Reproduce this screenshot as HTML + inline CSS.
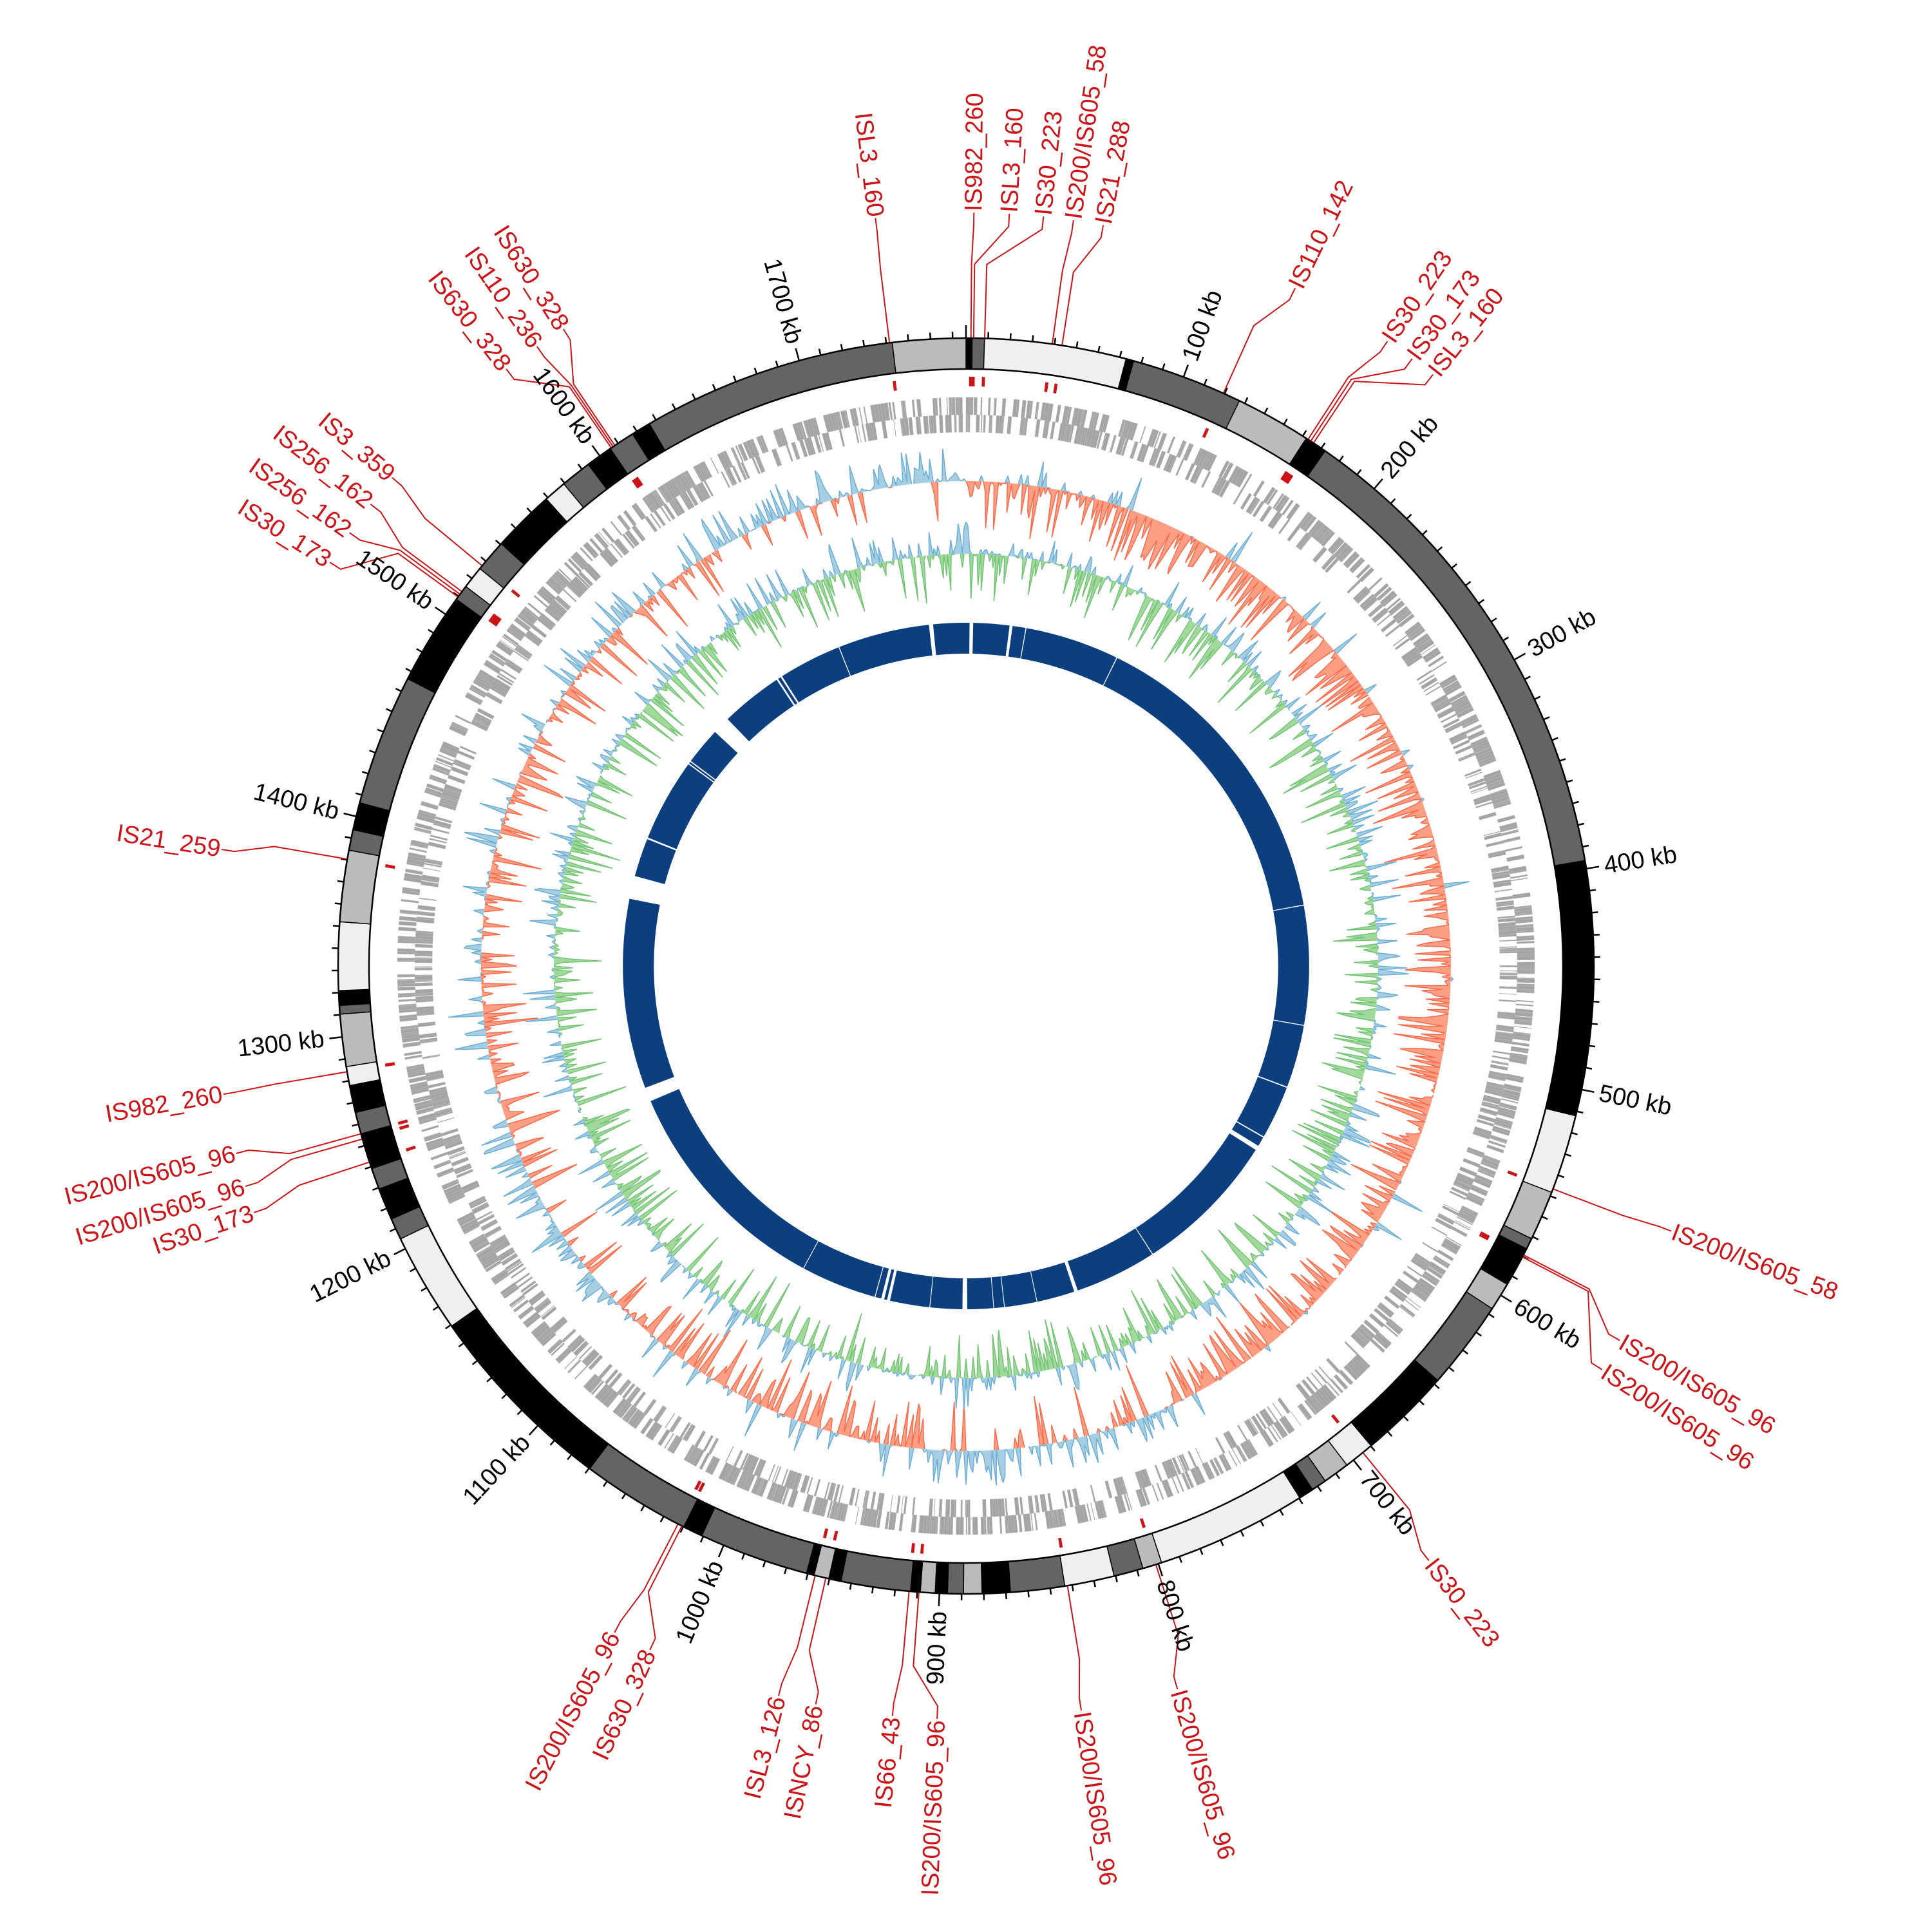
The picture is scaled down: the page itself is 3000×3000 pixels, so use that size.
<!DOCTYPE html>
<html><head><meta charset="utf-8"><style>
html,body{margin:0;padding:0;background:#fff;width:3000px;height:3000px;overflow:hidden}
svg{display:block}
.t{font-family:"Liberation Sans Narrow","Liberation Sans",sans-serif;font-size:38px;fill:#000;dominant-baseline:central}
.r{font-family:"Liberation Sans Narrow","Liberation Sans",sans-serif;font-size:38px;fill:#cc1418;dominant-baseline:central}
</style></head><body>
<svg id="s" width="3000" height="3000" viewBox="0 0 3000 3000" xmlns="http://www.w3.org/2000/svg">
<rect width="3000" height="3000" fill="#fff"/>
<g id="dyn"></g>
<g>
<text class="t" x="2503" y="1500" transform="rotate(-69.73 1500 1500)">100 kb</text>
<text class="t" x="2503" y="1500" transform="rotate(-49.46 1500 1500)">200 kb</text>
<text class="t" x="2503" y="1500" transform="rotate(-29.19 1500 1500)">300 kb</text>
<text class="t" x="2503" y="1500" transform="rotate(-8.92 1500 1500)">400 kb</text>
<text class="t" x="2503" y="1500" transform="rotate(11.35 1500 1500)">500 kb</text>
<text class="t" x="2503" y="1500" transform="rotate(31.62 1500 1500)">600 kb</text>
<text class="t" x="2503" y="1500" transform="rotate(51.89 1500 1500)">700 kb</text>
<text class="t" x="2503" y="1500" transform="rotate(72.16 1500 1500)">800 kb</text>
<text class="t" x="497" y="1500" text-anchor="end" transform="rotate(272.43 1500 1500)">900 kb</text>
<text class="t" x="497" y="1500" text-anchor="end" transform="rotate(292.70 1500 1500)">1000 kb</text>
<text class="t" x="497" y="1500" text-anchor="end" transform="rotate(312.97 1500 1500)">1100 kb</text>
<text class="t" x="497" y="1500" text-anchor="end" transform="rotate(333.24 1500 1500)">1200 kb</text>
<text class="t" x="497" y="1500" text-anchor="end" transform="rotate(353.51 1500 1500)">1300 kb</text>
<text class="t" x="497" y="1500" text-anchor="end" transform="rotate(373.78 1500 1500)">1400 kb</text>
<text class="t" x="497" y="1500" text-anchor="end" transform="rotate(394.05 1500 1500)">1500 kb</text>
<text class="t" x="497" y="1500" text-anchor="end" transform="rotate(414.32 1500 1500)">1600 kb</text>
<text class="t" x="497" y="1500" text-anchor="end" transform="rotate(434.59 1500 1500)">1700 kb</text>
</g>
<g>
<text class="r" x="328" y="1500" text-anchor="end" transform="rotate(443.1 1500 1500)">ISL3_160</text>
<text class="r" x="2672" y="1500" transform="rotate(-89.4 1500 1500)">IS982_260</text>
<text class="r" x="2672" y="1500" transform="rotate(-86.7 1500 1500)">ISL3_160</text>
<text class="r" x="2672" y="1500" transform="rotate(-84.1 1500 1500)">IS30_223</text>
<text class="r" x="2672" y="1500" transform="rotate(-81.8 1500 1500)">IS200/IS605_58</text>
<text class="r" x="2672" y="1500" transform="rotate(-79.5 1500 1500)">IS21_288</text>
<text class="r" x="2672" y="1500" transform="rotate(-64.1 1500 1500)">IS110_142</text>
<text class="r" x="2672" y="1500" transform="rotate(-56 1500 1500)">IS30_223</text>
<text class="r" x="2672" y="1500" transform="rotate(-53.7 1500 1500)">IS30_173</text>
<text class="r" x="2672" y="1500" transform="rotate(-51.7 1500 1500)">ISL3_160</text>
<text class="r" x="2672" y="1500" transform="rotate(20.6 1500 1500)">IS200/IS605_58</text>
<text class="r" x="2672" y="1500" transform="rotate(29.8 1500 1500)">IS200/IS605_96</text>
<text class="r" x="2672" y="1500" transform="rotate(32.4 1500 1500)">IS200/IS605_96</text>
<text class="r" x="2672" y="1500" transform="rotate(52.1 1500 1500)">IS30_223</text>
<text class="r" x="2672" y="1500" transform="rotate(73.7 1500 1500)">IS200/IS605_96</text>
<text class="r" x="2672" y="1500" transform="rotate(81.2 1500 1500)">IS200/IS605_96</text>
<text class="r" x="328" y="1500" text-anchor="end" transform="rotate(272.2 1500 1500)">IS200/IS605_96</text>
<text class="r" x="328" y="1500" text-anchor="end" transform="rotate(275.6 1500 1500)">IS66_43</text>
<text class="r" x="328" y="1500" text-anchor="end" transform="rotate(281.5 1500 1500)">ISNCY_86</text>
<text class="r" x="328" y="1500" text-anchor="end" transform="rotate(284.4 1500 1500)">ISL3_126</text>
<text class="r" x="328" y="1500" text-anchor="end" transform="rotate(294.8 1500 1500)">IS630_328</text>
<text class="r" x="328" y="1500" text-anchor="end" transform="rotate(297.8 1500 1500)">IS200/IS605_96</text>
<text class="r" x="328" y="1500" text-anchor="end" transform="rotate(340.9 1500 1500)">IS30_173</text>
<text class="r" x="328" y="1500" text-anchor="end" transform="rotate(343 1500 1500)">IS200/IS605_96</text>
<text class="r" x="328" y="1500" text-anchor="end" transform="rotate(345.6 1500 1500)">IS200/IS605_96</text>
<text class="r" x="328" y="1500" text-anchor="end" transform="rotate(350.2 1500 1500)">IS982_260</text>
<text class="r" x="328" y="1500" text-anchor="end" transform="rotate(368.9 1500 1500)">IS21_259</text>
<text class="r" x="328" y="1500" text-anchor="end" transform="rotate(392.4 1500 1500)">IS30_173</text>
<text class="r" x="328" y="1500" text-anchor="end" transform="rotate(395.1 1500 1500)">IS256_162</text>
<text class="r" x="328" y="1500" text-anchor="end" transform="rotate(397.8 1500 1500)">IS256_162</text>
<text class="r" x="328" y="1500" text-anchor="end" transform="rotate(400.4 1500 1500)">IS3_359</text>
<text class="r" x="328" y="1500" text-anchor="end" transform="rotate(412.4 1500 1500)">IS630_328</text>
<text class="r" x="328" y="1500" text-anchor="end" transform="rotate(415.3 1500 1500)">IS110_236</text>
<text class="r" x="328" y="1500" text-anchor="end" transform="rotate(417.7 1500 1500)">IS630_328</text>
</g>
</svg>
<script>
(function(){
var C=1500,out=[];
function P(r,a){var t=a*Math.PI/180;return [C+r*Math.sin(t),C-r*Math.cos(t)];}
function f(n){return n.toFixed(1);}
function sector(r1,r2,a1,a2){var p1=P(r2,a1),p2=P(r2,a2),p3=P(r1,a2),p4=P(r1,a1);var l=(a2-a1)>180?1:0;
return "M"+f(p1[0])+","+f(p1[1])+"A"+r2+","+r2+" 0 "+l+" 1 "+f(p2[0])+","+f(p2[1])+"L"+f(p3[0])+","+f(p3[1])+"A"+r1+","+r1+" 0 "+l+" 0 "+f(p4[0])+","+f(p4[1])+"Z";}
var seed=12345;function rnd(){seed|=0;seed=seed+0x6D2B79F5|0;var t=Math.imul(seed^seed>>>15,1|seed);t=t+Math.imul(t^t>>>7,61|t)^t;return((t^t>>>14)>>>0)/4294967296;}
function ang(x,y){var a=Math.atan2(x-782,-(y-783))*180/Math.PI;if(a<0)a+=360;return a;}
var D="#646464",L="#bbbbbb",E="#efefef",K="#000";
var B=[[787,275,K],[797,275,D],[912,290,E],[918,292,K],[1005,322,D],[1058,355,L],[1072,367,K],[1287,697,D],[1258,900,K],[1240,960,E],[1228,998,L],[1222,1005,D],[1207,1033,K],[1192,1050,L],[1152,1108,D],[1102,1162,K],[1085,1180,E],[1068,1193,L],[1058,1200,D],[1050,1210,K],[940,1265,E],[925,1270,L],[902,1277,D],[862,1285,E],[818,1290,D],[795,1291,K],[780,1291,L],[767,1291,D],[757,1291,K],[745,1290,L],[737,1290,K],[680,1285,D],[670,1283,K],[658,1280,L],[652,1278,K],[570,1240,D],[556,1232,K],[487,1177,D],[372,1070,K],[322,1005,E],[312,990,D],[303,965,K],[298,948,D],[288,920,K],[286,902,D],[282,880,K],[277,865,E],[275,822,L],[274,815,D],[273,803,K],[272,747,E],[276,688,L],[283,672,D],[288,650,K],[335,553,D],[372,488,K],[380,478,D],[393,465,E],[410,445,D],[445,408,K],[460,397,E],[480,382,D],[498,370,K],[515,357,D],[528,348,K],[722,276,D]];
var a0=0;
for(var i=0;i<B.length;i++){var a1=ang(B[i][0],B[i][1]);out.push('<path d="'+sector(927,975,a0,a1)+'" fill="'+B[i][2]+'" stroke="#000" stroke-width="1.5"/>');a0=a1;}
out.push('<path d="'+sector(927,975,a0,360)+'" fill="'+L+'" stroke="#000" stroke-width="1.5"/>');
out.push('<circle cx="1500" cy="1500" r="975" fill="none" stroke="#000" stroke-width="2.5"/><circle cx="1500" cy="1500" r="927" fill="none" stroke="#000" stroke-width="2.5"/>');
var tk="";for(var k=0;k<178;k++){var a=k*2.027,len=(k%10==0)?20:10;var p=P(975,a),q=P(975+len,a);tk+="M"+f(p[0])+","+f(p[1])+"L"+f(q[0])+","+f(q[1]);}
out.push('<path d="'+tk+'" stroke="#000" stroke-width="2.5"/>');
var IS=[[353.1,353.0],[0.6,0.45],[3.3,0.7],[5.9,1.7],[8.2,7.9],[10.5,8.8],[25.9,24.2],[34.0,33.0],[36.3,33.3],[38.3,33.6],[110.6,110.8],[119.8,117.4],[122.4,117.6],[142.1,140.8],[163.7,162.4],[171.2,170.7],[182.2,184.3],[185.6,185.2],[191.5,192.9],[194.4,193.9],[204.8,206.9],[207.8,207.3],[250.9,251.8],[253.0,254.0],[255.6,254.5],[260.2,260.3],[278.9,279.8],[302.4,306.0],[305.1,306.3],[307.8,306.6],[310.4,309.6],[322.4,325.6],[325.3,325.8],[327.7,326.0]];
var ld="",mk="";
for(var i=0;i<IS.length;i++){var tl=IS[i][0],tm=IS[i][1];var p1=P(976,tm),p2=P(1090,tm),p3=P(1150,tl),p4=P(1170,tl);
ld+="M"+f(p1[0])+","+f(p1[1])+"L"+f(p2[0])+","+f(p2[1])+"L"+f(p3[0])+","+f(p3[1])+"L"+f(p4[0])+","+f(p4[1]);
mk+=sector(900,915,tm-0.15,tm+0.15);}
out.push('<path d="'+ld+'" fill="none" stroke="#cc1418" stroke-width="2"/>');
out.push('<path d="'+mk+'" fill="#cc1418"/>');
function genes(r1,r2,dens){var g="",a=0;while(a<360){var len=0.04+rnd()*0.35;if(rnd()<dens){g+=sector(r1,r2,a,Math.min(a+len,360));}a+=len+(rnd()<0.12?rnd()*0.9:0.01);}return g;}
out.push('<path d="'+genes(856,883,0.7)+'" fill="#a4a4a4" stroke="#b8b8b8" stroke-width="0.5"/>');
out.push('<path d="'+genes(829,856,0.55)+'" fill="#a4a4a4" stroke="#b8b8b8" stroke-width="0.5"/>');
function track(b,N,vals,colPos,strPos,colNeg,strNeg){var pos=[],neg=[];
for(var i=0;i<=N;i++){var a=i*360/N,v=vals[i%N];var p=P(b+Math.max(v,0),a),q=P(b+Math.min(v,0),a);pos.push(f(p[0])+","+f(p[1]));neg.push(f(q[0])+","+f(q[1]));}
var base=[];for(var i=N;i>=0;i--){var p=P(b,i*360/N);base.push(f(p[0])+","+f(p[1]));}
out.push('<path d="M'+pos.join("L")+"L"+base.join("L")+'Z" fill="'+colPos+'"/>');
out.push('<path d="M'+neg.join("L")+"L"+base.join("L")+'Z" fill="'+colNeg+'"/>');
// outlines only where non-zero
var sp="",sn="";for(var i=0;i<N;i++){var v1=vals[i],v2=vals[(i+1)%N],a1=i*360/N,a2=(i+1)*360/N;
if(v1>0.5||v2>0.5){var p=P(b+Math.max(v1,0),a1),q=P(b+Math.max(v2,0),a2);sp+="M"+f(p[0])+","+f(p[1])+"L"+f(q[0])+","+f(q[1]);}
if(v1<-0.5||v2<-0.5){var p=P(b+Math.min(v1,0),a1),q=P(b+Math.min(v2,0),a2);sn+="M"+f(p[0])+","+f(p[1])+"L"+f(q[0])+","+f(q[1]);}}
out.push('<path d="'+sp+'" fill="none" stroke="'+strPos+'" stroke-width="1.5"/>');
out.push('<path d="'+sn+'" fill="none" stroke="'+strNeg+'" stroke-width="1.5"/>');}
function pNeg(a){if(a<20)return 0.7;if(a<155)return 0.92;if(a<185)return 0.25;if(a<225)return 0.75;if(a<245)return 0.2;if(a<300)return 0.6;if(a<330)return 0.5;return 0.15;}
var N=1400,sk=[];
for(var i=0;i<N;i++){var a=i*360/N;var neg=rnd()<pNeg(a);var m=Math.pow(rnd(),2.6);sk.push(neg?-(m*85):(m*55));}
track(753,N,sk,"#a6cee3","#6baed6","#fc9e83","#fb6a4a");
var gc=[];for(var i=0;i<N;i++){var neg=rnd()<0.5;var m=Math.pow(rnd(),2.8);gc.push(neg?-(m*80):(m*50));}
track(640,N,gc,"#a6cee3","#6baed6","#a1d99b","#74c476");
out.push('<path d="'+sector(485,533,0,180)+sector(485,533,180,360)+'" fill="#0b3f7f"/>');
var gaps=[[-6.2,-5.5],[0.6,1.2],[7.3,7.8],[10,10.15],[26,26.15],[79.7,79.85],[99.9,100.05],[110.6,110.8],[119.8,120],[121.6,122.4],[147,147.15],[161,161.6],[168,168.12],[173.5,173.62],[175.3,175.42],[179.8,180.6],[186,186.12],[192.8,193.3],[193.8,194.3],[195.3,195.45],[208.2,208.32],[246.8,249.2],[281.3,285.2],[291.7,292],[306,306.2],[306.5,306.7],[313,316],[326.5,326.8],[327.3,327.6],[338.2,338.35]];
var gp="";for(var i=0;i<gaps.length;i++)gp+=sector(480,538,gaps[i][0],gaps[i][1]);
out.push('<path d="'+gp+'" fill="#fff"/>');
document.getElementById("dyn").innerHTML=out.join("");
})();
</script>
</body></html>
